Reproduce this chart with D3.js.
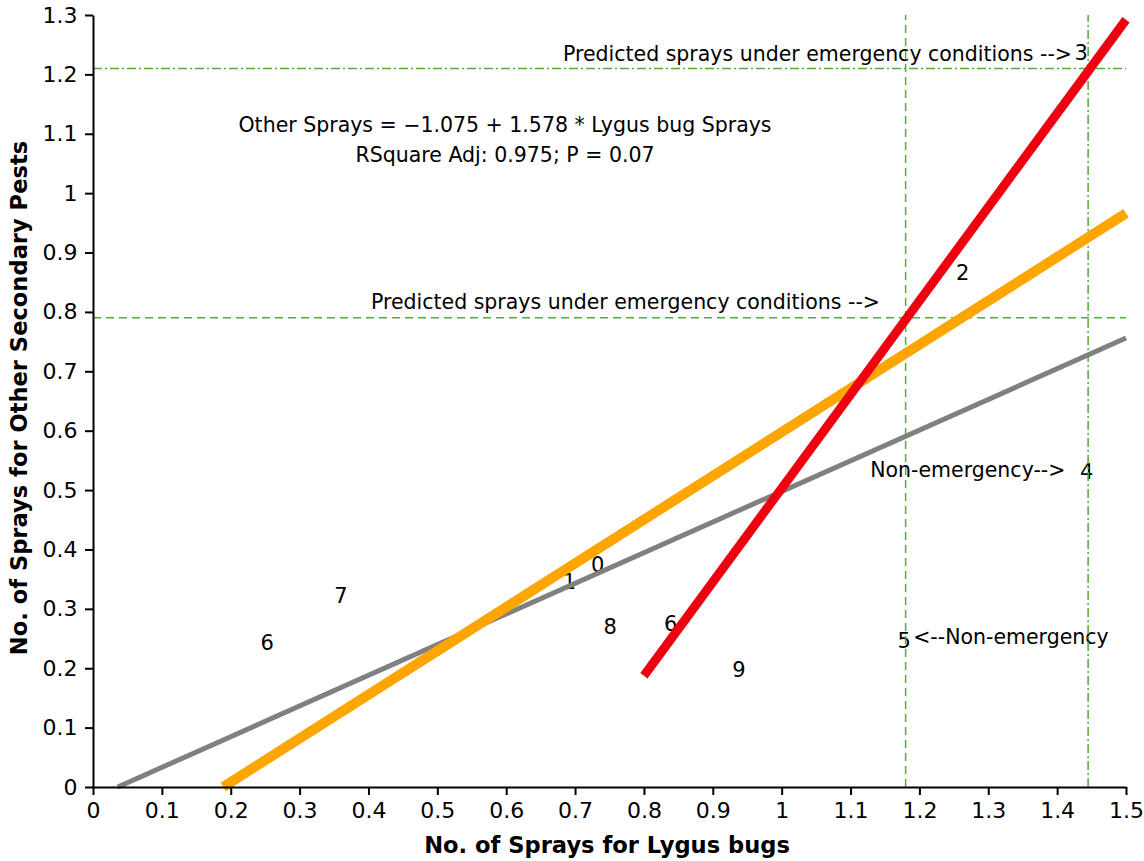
<!DOCTYPE html>
<html>
<head>
<meta charset="utf-8">
<script src="https://cdn.jsdelivr.net/npm/d3@7"></script>
<style>
  html, body { margin: 0; padding: 0; background: #fff; }
  svg { display: block; font-family: "DejaVu Sans", Verdana, sans-serif; }
</style>
</head>
<body>
<svg id="chart" width="1144" height="861"></svg>
<script>
// Axis ticks
const xTicks = [0, 0.1, 0.2, 0.3, 0.4, 0.5, 0.6, 0.7, 0.8, 0.9, 1, 1.1, 1.2, 1.3, 1.4, 1.5];
const yTicks = [0, 0.1, 0.2, 0.3, 0.4, 0.5, 0.6, 0.7, 0.8, 0.9, 1, 1.1, 1.2, 1.3];

// Year labels placed at (Lygus bug sprays, other sprays)
const yearLabels = ["6", "7", "1", "0", "8", "6", "9", "2", "3", "4", "5"];
const yearX = [0.253, 0.360, 0.692, 0.733, 0.751, 0.839, 0.938, 1.263, 1.435, 1.443, 1.178];
const yearY = [0.242, 0.322, 0.345, 0.374, 0.269, 0.274, 0.197, 0.865, 1.236, 0.530, 0.246];

// Fitted lines (endpoints)
const grayLine = [[0.036, 0], [1.5, 0.756]];
const orangeLine = [[0.189, 0], [1.5, 0.966]];
// Other Sprays = -1.075 + 1.578 * Lygus bug Sprays, over 0.8..1.5
const redLine = [[0.8, 0.1874], [1.5, 1.292]];

// Reference thresholds
const emergencyX = 1.445, emergencyY = 1.21;
const predictedX = 1.18, predictedY = 0.79;

const svg = d3.select("#chart");
const margin = { left: 93, right: 18, top: 15, bottom: 74 };
const W = 1144, H = 861;

const x = d3.scaleLinear().domain([0, 1.5]).range([margin.left, W - margin.right]);
const y = d3.scaleLinear().domain([0, 1.3]).range([H - margin.bottom, margin.top]);

const green = "#55aa3c";

// Year labels
svg.append("g").selectAll("text").data(yearLabels).join("text")
  .attr("x", (d, i) => x(yearX[i]))
  .attr("y", (d, i) => y(yearY[i]))
  .attr("text-anchor", "middle").attr("dominant-baseline", "central")
  .attr("font-size", 21).attr("fill", "#000")
  .text(d => d);

// Annotations
const ann = svg.append("g").attr("font-size", 20.5).attr("fill", "#000");
ann.append("text").attr("x", 505).attr("y", 132).attr("text-anchor", "middle")
  .text("Other Sprays = −1.075 + 1.578 * Lygus bug Sprays");
ann.append("text").attr("x", 505).attr("y", 162).attr("text-anchor", "middle")
  .text("RSquare Adj: 0.975; P = 0.07");
ann.append("text").attr("x", x(1.4216)).attr("y", y(emergencyY) - 7).attr("text-anchor", "end")
  .text("Predicted sprays under emergency conditions -->");
ann.append("text").attr("x", x(1.1428)).attr("y", y(predictedY) - 9).attr("text-anchor", "end")
  .text("Predicted sprays under emergency conditions -->");
ann.append("text").attr("x", x(1.412)).attr("y", y(0.534)).attr("dominant-baseline", "central")
  .attr("text-anchor", "end")
  .text("Non-emergency-->");
ann.append("text").attr("x", x(1.191)).attr("y", y(0.252)).attr("dominant-baseline", "central")
  .attr("text-anchor", "start")
  .text("<--Non-emergency");

// Reference lines
const refs = svg.append("g").attr("fill", "none").attr("stroke", green).attr("stroke-width", 1.5);
refs.append("line").attr("x1", x(0)).attr("x2", x(1.5)).attr("y1", y(emergencyY)).attr("y2", y(emergencyY))
  .attr("stroke-dasharray", "9,3,2,3");
refs.append("line").attr("x1", x(emergencyX)).attr("x2", x(emergencyX)).attr("y1", y(0)).attr("y2", y(1.3))
  .attr("stroke-dasharray", "9,3,2,3");
refs.append("line").attr("x1", x(0)).attr("x2", x(1.5)).attr("y1", y(predictedY)).attr("y2", y(predictedY))
  .attr("stroke-dasharray", "8,5");
refs.append("line").attr("x1", x(predictedX)).attr("x2", x(predictedX)).attr("y1", y(0)).attr("y2", y(1.3))
  .attr("stroke-dasharray", "8,5");

// Fitted lines
const lineGen = d3.line().x(d => x(d[0])).y(d => y(d[1]));
svg.append("path").datum(grayLine).attr("d", lineGen).attr("fill", "none")
  .attr("stroke", "#808080").attr("stroke-width", 5);
svg.append("path").datum(orangeLine).attr("d", lineGen).attr("fill", "none")
  .attr("stroke", "#ffa500").attr("stroke-width", 10);
svg.append("path").datum(redLine).attr("d", lineGen).attr("fill", "none")
  .attr("stroke", "#ee0011").attr("stroke-width", 9);

// Axes
const fmt = d => String(d);
const xAxis = svg.append("g").attr("transform", `translate(0,${y(0)})`)
  .call(d3.axisBottom(x).tickValues(xTicks).tickFormat(fmt).tickSize(8).tickSizeOuter(0));
const yAxis = svg.append("g").attr("transform", `translate(${x(0)},0)`)
  .call(d3.axisLeft(y).tickValues(yTicks).tickFormat(fmt).tickSize(8).tickSizeOuter(0));
[xAxis, yAxis].forEach(a => {
  a.attr("font-family", "DejaVu Sans, Verdana, sans-serif").attr("font-size", 22);
  a.selectAll("path, line").attr("stroke", "#000").attr("stroke-width", 2);
  a.selectAll("text").attr("fill", "#000");
});
xAxis.selectAll("text").attr("dy", "0.9em");
yAxis.selectAll("text").attr("dx", "-0.2em");

// Axis titles
svg.append("text").attr("x", 607).attr("y", 853).attr("text-anchor", "middle")
  .attr("font-size", 22.6).attr("font-weight", "bold")
  .text("No. of Sprays for Lygus bugs");
svg.append("text").attr("transform", `translate(27,398) rotate(-90)`).attr("text-anchor", "middle")
  .attr("font-size", 22.6).attr("font-weight", "bold")
  .text("No. of Sprays for Other Secondary Pests");
</script>
</body>
</html>
